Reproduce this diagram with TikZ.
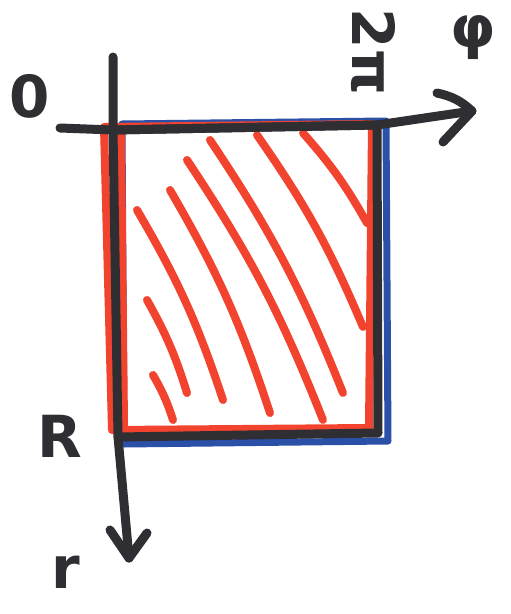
\documentclass[tikz,border=0pt]{standalone}
\usepackage{fontspec}
\newfontfamily\labfont{DejaVu Sans}
\usetikzlibrary{calc}
\definecolor{ink}{HTML}{2E2E33}
\definecolor{mred}{HTML}{F2432F}
\definecolor{mblue}{HTML}{2B50A8}
\tikzset{
  blk/.style={draw=ink,line width=9pt,line cap=round,line join=round},
  redl/.style={draw=mred,line width=8pt,line cap=round,line join=round},
  bluel/.style={draw=mblue,line width=7pt,line cap=round,line join=round},
  lab/.style={text=ink,font=\fontsize{58}{58}\selectfont\labfont\bfseries,inner sep=0pt}
}
\begin{document}
\begin{tikzpicture}[x=1pt,y=-1pt]
\useasboundingbox (0,0) rectangle (511,614);
% corners
\coordinate (btl) at (113,130);
\coordinate (btr) at (377,125);
\coordinate (bbr) at (378,433);
\coordinate (bbl) at (118,437);
% blue rectangle
\draw[bluel] (122,124) -- (386,121) -- (388,441) -- (124,444) -- cycle;
% red rectangle
\draw[redl] (104,127) -- (372,124) -- (369,428) -- (112,430) -- cycle;
\draw[redl] (121,135) -- (124,425);
% hatch
\foreach \a/\b in {{153,375}/{173,420},{147,300}/{187,393},{137,210}/{223,400},{170,190}/{270,413},{187,160}/{323,420},{210,140}/{343,393},{257,135}/{363,327},{303,133}/{367,223}}{
  \draw[redl] (\a) to[bend left=6] (\b);
}
% black rectangle
\draw[blk] (btl) -- (btr) -- (bbr) -- (bbl);
% axes
\coordinate (ytop) at (113,57);
\coordinate (ytip) at (129,558);
\coordinate (xstart) at (60,128);
\coordinate (xtip) at (472,111);
\draw[blk] (ytop) -- (btl) -- (bbl) -- (ytip);
\draw[blk] (110,530) -- (ytip) -- (147,533);
\draw[blk] (xstart) -- (btl) -- (btr) -- (xtip);
\draw[blk] (437,93) to[bend left=15] (xtip) -- (443,142);
% labels
\node[lab] (zero) at (30,96) {0};
\node[lab,rotate=-90] (twopi) at (373,52) {2π};
\node[lab] (phi) at (473,38) {φ};
\node[lab] (R) at (60,436) {R};
\node[lab] (r) at (66,572) {r};
\end{tikzpicture}
\end{document}
